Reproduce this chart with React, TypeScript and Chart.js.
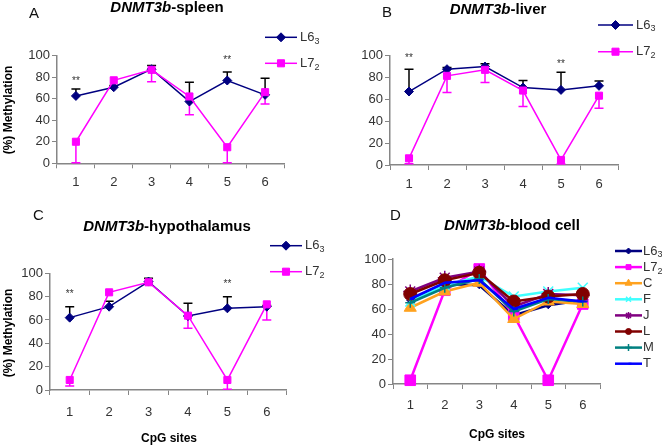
import React, { useEffect, useRef } from "react";
import { Chart, registerables } from "chart.js";
import { drawPoint } from "chart.js/helpers";

Chart.register(...registerables);

const FONT = '"Liberation Sans", Arial, Helvetica, sans-serif';
Chart.defaults.font.family = FONT;

// ---------- data ----------
const sites = ["1", "2", "3", "4", "5", "6"];
const yTickStep = 20;

// A: spleen
const spleenL6 = [62.5, 70.6, 87.3, 57.3, 76.8, 63.5];
const spleenL6Err = [6.5, 1.5, 3.5, 18, 8, 15.5];
const spleenL7 = [20, 77, 86.7, 62, 14.9, 66];
const spleenL7Err = [19.5, 0, 11, 17, 14.5, 11];
const spleenStars = [78, null, null, null, 97, null];

// B: liver
const liverL6 = [67.1, 87.5, 89.9, 70.7, 68.6, 72.3];
const liverL6Err = [20.4, 1.5, 2.5, 6.4, 16.2, 4.5];
const liverL7 = [6.1, 81.4, 86.9, 68, 4.6, 63.3];
const liverL7Err = [5, 15.2, 11.6, 14.6, 3.6, 11.5];
const liverStars = [99, null, null, null, 93.6, null];

// C: hypothalamus
const hypoL6 = [62, 71.4, 92.9, 63.4, 70, 71.4];
const hypoL6Err = [9.4, 4.6, 2.8, 10.9, 10, 1];
const hypoL7 = [8.6, 83.7, 92.3, 63.7, 8.6, 73.4];
const hypoL7Err = [5.2, 0, 1, 10.8, 8, 13.4];
const hypoStars = [83.4, null, null, null, 92, null];

// D: blood cell
const bloodL6 = [67, 80, 79, 55, 63, 67];
const bloodL7 = [3, 75, 92, 55, 3, 64];
const bloodC = [61, 74, 81, 52, 66, 64];
const bloodF = [66, 79, 86, 70, 74, 77];
const bloodJ = [74, 85, 90, 62, 72, 71];
const bloodL = [72, 83, 89, 66, 70, 72];
const bloodM = [65, 77, 84, 58, 68, 66];
const bloodT = [68, 81, 83, 60, 69, 66];

// ---------- styles ----------
const NAVY = "#000080";
const MAGENTA = "#FF00FF";
const ORANGE = "#FFA21F";
const CYAN = "#40FFFF";
const PURPLE = "#800080";
const MAROON = "#800000";
const TEAL = "#008080";
const BLUE = "#0000FF";
const AXIS = "#868686";
const TEXT = "#333333";

interface SeriesDef {
  name: string;
  sub?: string;
  data: number[];
  color: string;
  point: string;
  radius: number;
  legendRadius: number;
  width: number;
  pbw: number;
}
interface ErrDef {
  series: number;
  err: number[];
  dir: 1 | -1;
  color: string;
}
interface PanelDef {
  id: string;
  x: number;
  y: number;
  w: number;
  h: number;
  area: { l: number; t: number; r: number; b: number };
  letter: string;
  letterX: number;
  letterY: number;
  titleItalic: string;
  titleRest: string;
  titleX: number;
  titleY: number;
  yTitle?: { x: number; y: number };
  xTitle?: { x: number; y: number };
  legend: { x1: number; x2: number; y0: number; dy: number; tx: number };
  series: SeriesDef[];
  errs: ErrDef[];
  stars: (number | null)[];
  xPad: number;
}

const pair = (l6: number[], l7: number[]): SeriesDef[] => [
  { name: "L6", sub: "3", data: l6, color: NAVY, point: "rectRot", radius: 4.5, legendRadius: 4.5, width: 1.5, pbw: 1 },
  { name: "L7", sub: "2", data: l7, color: MAGENTA, point: "rect", radius: 5, legendRadius: 5, width: 1.5, pbw: 1 },
];

const Y_W = 40;
const X_H = 32;

const panels: PanelDef[] = [
  {
    id: "A", x: 0, y: 0, w: 331, h: 200,
    area: { l: 57, t: 55.5, r: 284, b: 163.3 },
    letter: "A", letterX: 29, letterY: 13.5,
    titleItalic: "DNMT3b", titleRest: "-spleen", titleX: 167, titleY: 8,
    yTitle: { x: 9, y: 110 },
    legend: { x1: 265, x2: 297, y0: 37.3, dy: 26, tx: 300 },
    series: pair(spleenL6, spleenL7),
    errs: [
      { series: 0, err: spleenL6Err, dir: 1, color: "#000000" },
      { series: 1, err: spleenL7Err, dir: -1, color: MAGENTA },
    ],
    stars: spleenStars,
    xPad: 6,
  },
  {
    id: "B", x: 331, y: 0, w: 331, h: 200,
    area: { l: 59, t: 55.5, r: 287, b: 165 },
    letter: "B", letterX: 51, letterY: 13,
    titleItalic: "DNMT3b", titleRest: "-liver", titleX: 167, titleY: 10,
    legend: { x1: 267, x2: 302, y0: 25, dy: 26.7, tx: 305 },
    series: pair(liverL6, liverL7),
    errs: [
      { series: 0, err: liverL6Err, dir: 1, color: "#000000" },
      { series: 1, err: liverL7Err, dir: -1, color: MAGENTA },
    ],
    stars: liverStars,
    xPad: 7,
  },
  {
    id: "C", x: 0, y: 200, w: 331, h: 246,
    area: { l: 50, t: 73.3, r: 286.5, b: 190 },
    letter: "C", letterX: 33, letterY: 16,
    titleItalic: "DNMT3b", titleRest: "-hypothalamus", titleX: 167, titleY: 27,
    yTitle: { x: 9, y: 133 },
    xTitle: { x: 169, y: 239 },
    legend: { x1: 270, x2: 302, y0: 45.7, dy: 26, tx: 305 },
    series: pair(hypoL6, hypoL7),
    errs: [
      { series: 0, err: hypoL6Err, dir: 1, color: "#000000" },
      { series: 1, err: hypoL7Err, dir: -1, color: MAGENTA },
    ],
    stars: hypoStars,
    xPad: 10,
  },
  {
    id: "D", x: 331, y: 200, w: 331, h: 246,
    area: { l: 62, t: 59, r: 269, b: 184 },
    letter: "D", letterX: 59, letterY: 16,
    titleItalic: "DNMT3b", titleRest: "-blood cell", titleX: 181, titleY: 26,
    xTitle: { x: 166, y: 235 },
    legend: { x1: 284, x2: 311, y0: 51, dy: 16.1, tx: 312 },
    series: [
      { name: "L6", sub: "3", data: bloodL6, color: NAVY, point: "rectRot", radius: 3.5, legendRadius: 3, width: 2.5, pbw: 1 },
      { name: "L7", sub: "2", data: bloodL7, color: MAGENTA, point: "rect", radius: 7.5, legendRadius: 3.5, width: 2.5, pbw: 1 },
      { name: "C", data: bloodC, color: ORANGE, point: "triangle", radius: 7, legendRadius: 4, width: 2.5, pbw: 1 },
      { name: "F", data: bloodF, color: CYAN, point: "crossRot", radius: 7, legendRadius: 3.5, width: 2.5, pbw: 1.5 },
      { name: "J", data: bloodJ, color: PURPLE, point: "star", radius: 7, legendRadius: 3.5, width: 2.5, pbw: 1.5 },
      { name: "L", data: bloodL, color: MAROON, point: "circle", radius: 6.5, legendRadius: 3, width: 2.5, pbw: 1 },
      { name: "M", data: bloodM, color: TEAL, point: "cross", radius: 5, legendRadius: 3.5, width: 2.5, pbw: 1.5 },
      { name: "T", data: bloodT, color: BLUE, point: "dash", radius: 4, legendRadius: 3, width: 2.5, pbw: 2 },
    ],
    errs: [],
    stars: [null, null, null, null, null, null],
    xPad: 9,
  },
];

function makeDeco(p: PanelDef) {
  return {
    id: "deco" + p.id,
    beforeDatasetsDraw(chart: any) {
      const ctx = chart.ctx as CanvasRenderingContext2D;
      const xs = chart.scales.x;
      const ys = chart.scales.y;
      p.errs.forEach((e) => {
        const vals = p.series[e.series].data;
        ctx.save();
        ctx.strokeStyle = e.color;
        ctx.lineWidth = 1.5;
        vals.forEach((v, i) => {
          const d = e.err[i];
          if (!d) return;
          const x = xs.getPixelForValue(i);
          const y0 = ys.getPixelForValue(v);
          const y1 = ys.getPixelForValue(v + e.dir * d);
          ctx.beginPath();
          ctx.moveTo(x, y0);
          ctx.lineTo(x, y1);
          ctx.moveTo(x - 4.5, y1);
          ctx.lineTo(x + 4.5, y1);
          ctx.stroke();
        });
        ctx.restore();
      });
    },
    afterDraw(chart: any) {
      const ctx = chart.ctx as CanvasRenderingContext2D;
      const xs = chart.scales.x;
      const ys = chart.scales.y;
      ctx.save();
      // panel letter
      ctx.fillStyle = "#111";
      ctx.font = `15px ${FONT}`;
      ctx.textAlign = "left";
      ctx.textBaseline = "middle";
      ctx.fillText(p.letter, p.letterX, p.letterY);
      // title
      const fi = `italic bold 15px ${FONT}`;
      const fr = `bold 15px ${FONT}`;
      ctx.font = fi;
      const wi = ctx.measureText(p.titleItalic).width;
      ctx.font = fr;
      const wr = ctx.measureText(p.titleRest).width;
      const start = p.titleX - (wi + wr) / 2;
      ctx.fillStyle = "#000";
      ctx.font = fi;
      ctx.fillText(p.titleItalic, start, p.titleY);
      ctx.font = fr;
      ctx.fillText(p.titleRest, start + wi, p.titleY);
      // axis titles
      ctx.font = `bold 12px ${FONT}`;
      ctx.textAlign = "center";
      if (p.yTitle) {
        ctx.save();
        ctx.translate(p.yTitle.x, p.yTitle.y);
        ctx.rotate(-Math.PI / 2);
        ctx.fillText("(%) Methylation", 0, 0);
        ctx.restore();
      }
      if (p.xTitle) {
        ctx.fillText("CpG sites", p.xTitle.x, p.xTitle.y);
      }
      // significance stars
      ctx.font = `10px ${FONT}`;
      ctx.fillStyle = TEXT;
      p.stars.forEach((v, i) => {
        if (v == null) return;
        ctx.fillText("**", xs.getPixelForValue(i), ys.getPixelForValue(v) + 2);
      });
      // legend
      const lg = p.legend;
      p.series.forEach((s, i) => {
        const y = lg.y0 + i * lg.dy;
        ctx.save();
        ctx.strokeStyle = s.color;
        ctx.lineWidth = s.width;
        ctx.beginPath();
        ctx.moveTo(lg.x1, y);
        ctx.lineTo(lg.x2, y);
        ctx.stroke();
        ctx.fillStyle = s.color;
        ctx.lineWidth = s.pbw;
        drawPoint(ctx, { pointStyle: s.point as any, radius: s.legendRadius, rotation: 0, borderWidth: s.pbw } as any, (lg.x1 + lg.x2) / 2, y);
        ctx.restore();
        ctx.fillStyle = TEXT;
        ctx.textAlign = "left";
        ctx.textBaseline = "middle";
        ctx.font = `13px ${FONT}`;
        ctx.fillText(s.name, lg.tx, y);
        if (s.sub) {
          const w = ctx.measureText(s.name).width;
          ctx.font = `9px ${FONT}`;
          ctx.fillText(s.sub, lg.tx + w, y + 4);
        }
      });
      ctx.restore();
    },
  };
}

function Panel({ p }: { p: PanelDef }) {
  const ref = useRef<HTMLCanvasElement>(null);
  useEffect(() => {
    const canvas = ref.current;
    if (!canvas) return;
    const tickFont = { size: 13, family: FONT };
    const chart = new Chart(canvas, {
      type: "line",
      data: {
        labels: sites,
        datasets: p.series.map((s, i) => ({
          label: s.name + (s.sub ?? ""),
          data: s.data,
          borderColor: s.color,
          backgroundColor: s.color,
          borderWidth: s.width,
          pointStyle: s.point as any,
          pointRadius: s.radius,
          pointBackgroundColor: s.color,
          pointBorderColor: s.color,
          pointBorderWidth: s.pbw,
          tension: 0,
          fill: false,
          order: -i,
          clip: false as any,
        })),
      },
      options: {
        animation: false,
        responsive: false,
        devicePixelRatio: 1,
        events: [],
        layout: {
          padding: {
            left: p.area.l - Y_W,
            top: p.area.t,
            right: p.w - p.area.r,
            bottom: p.h - p.area.b - X_H,
          },
        },
        plugins: {
          legend: { display: false },
          tooltip: { enabled: false },
          title: { display: false },
        },
        scales: {
          x: {
            type: "category",
            offset: true,
            grid: { offset: true, drawOnChartArea: false, drawTicks: true, tickLength: 5, color: AXIS, lineWidth: 1 },
            border: { color: AXIS, width: 1.5 },
            ticks: { font: tickFont, color: TEXT, padding: p.xPad, maxRotation: 0 },
            afterFit: (s: any) => {
              s.height = X_H;
            },
          },
          y: {
            min: 0,
            max: 100,
            grid: { drawOnChartArea: false, drawTicks: true, tickLength: 5, color: AXIS, lineWidth: 1 },
            border: { color: AXIS, width: 1.5 },
            ticks: { font: tickFont, color: TEXT, padding: 2, stepSize: yTickStep },
            afterFit: (s: any) => {
              s.width = Y_W;
            },
          },
        },
      } as any,
      plugins: [makeDeco(p)],
    });
    return () => chart.destroy();
  }, [p]);
  return (
    <canvas
      ref={ref}
      width={p.w}
      height={p.h}
      style={{ position: "absolute", left: p.x, top: p.y, width: p.w, height: p.h }}
    />
  );
}

export default function App() {
  return (
    <div style={{ position: "absolute", left: 0, top: 0, width: 662, height: 446, background: "#fff", overflow: "hidden" }}>
      {panels.map((p) => (
        <Panel key={p.id} p={p} />
      ))}
    </div>
  );
}
